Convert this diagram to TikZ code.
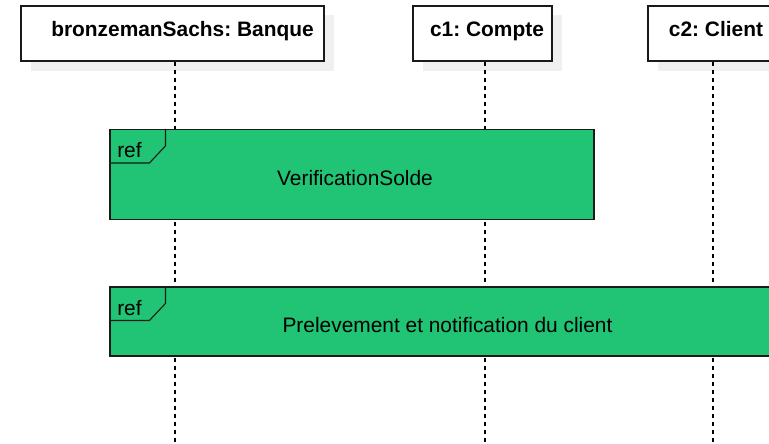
\documentclass[tikz,border=0pt]{standalone}
\usepackage{fontspec}
\setmainfont{Liberation Sans}
\frenchspacing
\definecolor{refgreen}{RGB}{33,195,116}
\definecolor{shadowgray}{RGB}{240,240,240}
\definecolor{edge}{RGB}{26,26,26}
\tikzset{
  every node/.style={font=\fontsize{20.9}{25}\selectfont},
  headbox/.style={draw=edge, line width=1.1pt, fill=white, rectangle, inner sep=0pt},
  headshadow/.style={fill=shadowgray, draw=none},
  headtext/.style={font=\fontsize{20.9}{25}\selectfont\bfseries, anchor=base, inner sep=0pt},
  lifeline/.style={draw=black, line width=1.1pt, dash pattern=on 4pt off 4pt},
  refframe/.style={draw=edge, line width=1.1pt, fill=refgreen, rectangle, inner sep=0pt},
  reftag/.style={draw=edge, line width=1.1pt},
  plaintext/.style={anchor=base, inner sep=0pt},
}
\begin{document}
\begin{tikzpicture}[x=1pt, y=-1pt]
\useasboundingbox (0,0) rectangle (769,444);
\clip (0,0) rectangle (769,444);

% drop shadows of the participant heads
\fill[headshadow] (31,15) rectangle (334,71);
\fill[headshadow] (423,15) rectangle (562,71);
\fill[headshadow] (658,15) rectangle (788,71);

% participant heads
\node[headbox, minimum width=303pt, minimum height=55pt] (bank) at (172.5,33.5) {};
\node[headtext] (banklbl) at (182.5,37) {bronzemanSachs: Banque};
\node[headbox, minimum width=139pt, minimum height=55pt] (c1) at (482.5,33.5) {};
\node[headtext] (c1lbl) at (487,37) {c1: Compte};
\node[headbox, minimum width=130pt, minimum height=55pt] (c2) at (713,33.5) {};
\node[headtext] (c2lbl) at (716,37) {c2: Client};

% lifelines
\coordinate (bankend) at (175,444);
\coordinate (c1end) at (485,444);
\coordinate (c2end) at (713,444);
\draw[lifeline] (bank.south -| bankend) -- (bankend);
\draw[lifeline] (c1.south -| c1end) -- (c1end);
\draw[lifeline] (c2.south -| c2end) -- (c2end);

% interaction uses
\node[refframe, minimum width=484pt, minimum height=90pt] (verif) at (352,174.5) {};
\draw[reftag] (verif.north west) ++(56,0) -- ++(0,17) -- ++(-16,17) -- ++(-40,0);
\node[plaintext] (veriftag) at ([xshift=20pt, yshift=-29pt]verif.north west) {ref};
\node[plaintext] (veriflbl) at (355,185) {VerificationSolde};

\node[refframe, minimum width=675pt, minimum height=69pt] (prelev) at (447.5,321.5) {};
\draw[reftag] (prelev.north west) ++(56,0) -- ++(0,17) -- ++(-16,17) -- ++(-40,0);
\node[plaintext] (prelevtag) at ([xshift=20pt, yshift=-29pt]prelev.north west) {ref};
\node[plaintext] (prelevlbl) at (447.5,332) {Prelevement et notification du client};
\end{tikzpicture}
\end{document}
